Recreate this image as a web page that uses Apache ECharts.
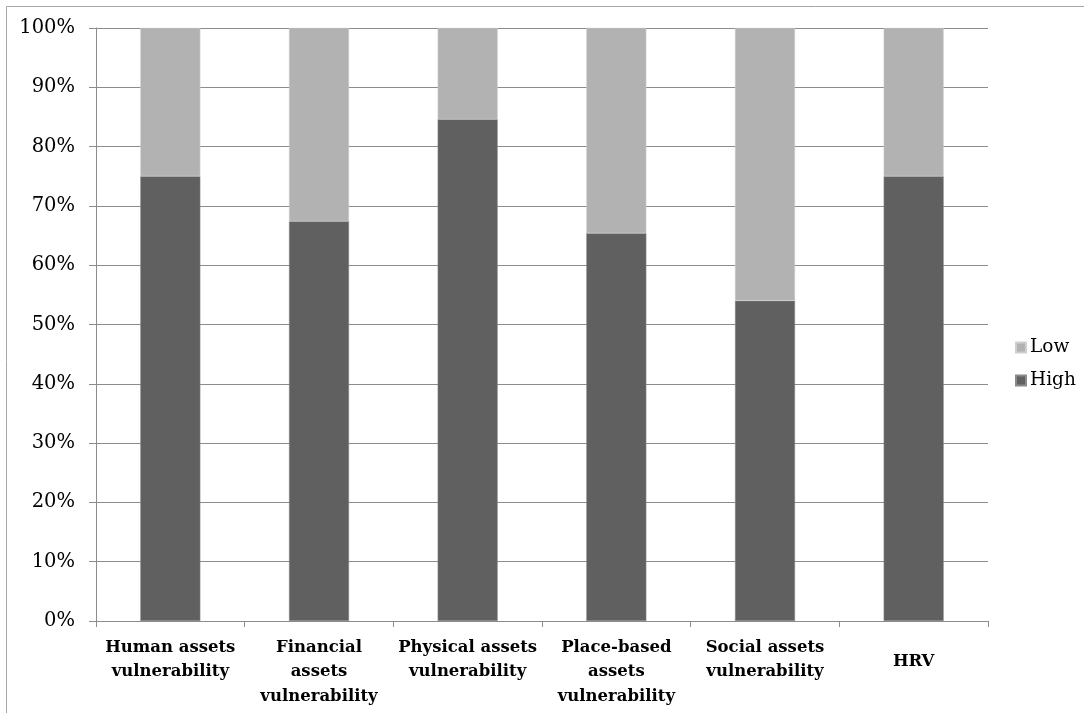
<!DOCTYPE html>
<html>
<head>
<meta charset="utf-8">
<script src="https://cdn.jsdelivr.net/npm/echarts@6/dist/echarts.min.js"></script>
<style>
  html, body { margin: 0; padding: 0; background: #fff; }
  #chart { width: 1084px; height: 713px; }
</style>
</head>
<body>
<div id="chart"></div>
<script>
// Share of High / Low vulnerability per asset dimension (percent)
const categories = [
  'Human assets\nvulnerability',
  'Financial\nassets\nvulnerability',
  'Physical assets\nvulnerability',
  'Place-based\nassets\nvulnerability',
  'Social assets\nvulnerability',
  'HRV'
];
const highValues = [75.0, 67.4, 84.6, 65.4, 54.0, 75.0];
const lowValues = [25.0, 32.6, 15.4, 34.6, 46.0, 25.0];
const yTicks = [0, 10, 20, 30, 40, 50, 60, 70, 80, 90, 100];

const serif = 'DejaVu Serif';
const gridGray = '#8c8c8c';

const chart = echarts.init(document.getElementById('chart'));
chart.setOption({
  animation: false,
  backgroundColor: '#fff',
  graphic: [{
    type: 'rect',
    shape: { x: 6.5, y: 6.5, width: 1100, height: 720 },
    style: { fill: 'none', stroke: '#a6a6a6', lineWidth: 1 },
    silent: true
  }],
  grid: { left: 96, right: 96, top: 28, bottom: 92 },
  legend: {
    orient: 'vertical',
    left: 1010,
    top: 333,
    itemWidth: 10,
    itemHeight: 10,
    itemGap: 14,
    icon: 'rect',
    data: ['Low', 'High'],
    textStyle: { fontFamily: serif, fontSize: 18.5, color: '#000', padding: [0, 0, 0, -1] }
  },
  xAxis: {
    type: 'category',
    data: categories.map(c => c === 'HRV'
      ? { value: c, textStyle: { padding: [14, 0, 0, 0] } }
      : c),
    axisLine: { lineStyle: { color: gridGray, width: 1 } },
    axisTick: { show: true, length: 6, lineStyle: { color: gridGray } },
    axisLabel: {
      interval: 0,
      margin: 14,
      fontFamily: serif,
      fontWeight: 'bold',
      fontSize: 16.5,
      lineHeight: 24.5,
      color: '#000'
    }
  },
  yAxis: {
    type: 'value',
    min: 0,
    max: 100,
    interval: 10,
    axisLine: { show: true, lineStyle: { color: gridGray, width: 1 } },
    axisTick: { show: true, length: 7, lineStyle: { color: gridGray } },
    splitLine: { lineStyle: { color: gridGray, width: 1 } },
    axisLabel: {
      margin: 21,
      fontFamily: serif,
      fontSize: 19.5,
      color: '#000',
      formatter: v => yTicks.includes(v) ? v + '%' : ''
    }
  },
  series: [
    {
      name: 'High',
      type: 'bar',
      stack: 'total',
      barWidth: 60,
      data: highValues,
      itemStyle: { color: '#606060', borderColor: '#8a8a8a', borderWidth: 0.5 }
    },
    {
      name: 'Low',
      type: 'bar',
      stack: 'total',
      barWidth: 60,
      data: lowValues,
      itemStyle: { color: '#b2b2b2', borderColor: '#cfcfcf', borderWidth: 0.5 }
    }
  ]
});
</script>
</body>
</html>
